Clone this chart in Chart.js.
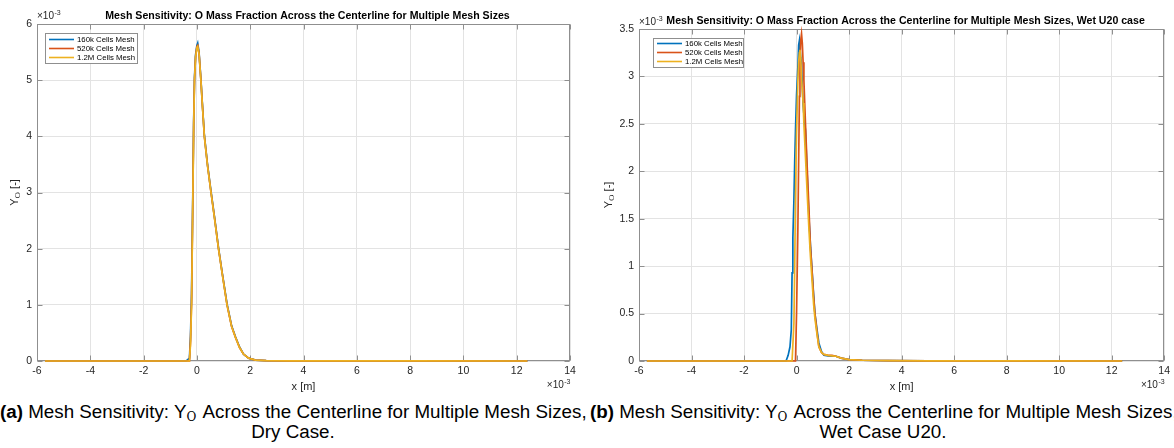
<!DOCTYPE html>
<html>
<head>
<meta charset="utf-8">
<script src="https://cdn.jsdelivr.net/npm/chart.js@4.4.0/dist/chart.umd.min.js"></script>
<style>
  html, body { margin: 0; padding: 0; background: #fff; width: 1174px; height: 448px; overflow: hidden; }
  #wrap { position: relative; width: 1174px; height: 448px; overflow: hidden; }
  canvas { position: absolute; top: 0; }
  #cL { left: 0; }
  #cR { left: 590px; }
  .cap { position: absolute; top: 402px; width: 586px; font-family: "Liberation Sans", Arial, sans-serif;
         font-size: 18.8px; line-height: 20px; text-align: center; white-space: nowrap; color: #000; }
  .cap sub { font-family: "DejaVu Serif", serif; font-size: 12px; vertical-align: -3px; line-height: 0; margin-right: 2px; }
</style>
</head>
<body>
<div id="wrap">
  <canvas id="cL" width="590" height="400"></canvas>
  <canvas id="cR" width="584" height="400"></canvas>
  <div class="cap" style="left:0"><b>(a)</b> Mesh Sensitivity: Y<sub>O</sub> Across the Centerline for Multiple Mesh Sizes,<br>Dry Case.</div>
  <div class="cap" style="left:590px"><b>(b)</b> Mesh Sensitivity: Y<sub>O</sub> Across the Centerline for Multiple Mesh Sizes,<br>Wet Case U20.</div>
</div>
<script>
// x and Y_O both in units of 1e-3 (the axes carry the x10^-3 multiplier)
var SERIES_NAMES = ["160k Cells Mesh", "520k Cells Mesh", "1.2M Cells Mesh"];
var SERIES_COLORS = ["#0072BD", "#D95319", "#EDB120"];

// (a) dry case
var X_DRY = [-5.7, -0.4, -0.28, -0.24, -0.2, -0.15, -0.12, -0.09, -0.05, 0, 0.03, 0.08, 0.15, 0.2, 0.28,
  0.4, 0.53, 0.65, 0.81, 0.95, 1.13, 1.3, 1.44, 1.6, 1.75, 1.94, 2.2, 2.6, 3.5, 5, 8, 12.4];
var DRY_160K = [0, 0, 0.05, 0.45, 1.2, 3.1, 4.3, 5.05, 5.45, 5.62, 5.66, 5.5, 5.02, 4.62, 4.02,
  3.49, 3.02, 2.6, 2.02, 1.57, 1.02, 0.63, 0.44, 0.25, 0.12, 0.05, 0.016, 0.008, 0.004, 0.002, 0.001, 0];
var DRY_520K = [0, 0, 0, 0.35, 1.05, 3.0, 4.25, 5.0, 5.42, 5.6, 5.62, 5.48, 5.0, 4.6, 4.0,
  3.48, 3.0, 2.59, 2.0, 1.56, 1.0, 0.62, 0.43, 0.24, 0.12, 0.05, 0.016, 0.008, 0.004, 0.002, 0.001, 0];
var DRY_1_2M = [0, 0, 0, 0.3, 1.0, 3.0, 4.2, 5.0, 5.4, 5.58, 5.6, 5.47, 5.0, 4.6, 4.0,
  3.47, 3.0, 2.58, 2.0, 1.55, 1.0, 0.62, 0.43, 0.24, 0.12, 0.05, 0.016, 0.008, 0.004, 0.002, 0.001, 0];

// (b) wet U20 case
var X_WET = [-5.7, -0.4, -0.32, -0.25, -0.2, -0.17, -0.14, -0.1, -0.07, -0.04, 0, 0.05, 0.08, 0.11, 0.13,
  0.16, 0.19, 0.22, 0.25, 0.28, 0.34, 0.4, 0.47, 0.53, 0.59, 0.65, 0.7, 0.78, 0.85, 0.95, 1.04,
  1.2, 1.35, 1.5, 1.7, 2.0, 2.5, 3.5, 5, 8, 12.4];
var WET_160K = [0, 0, 0.06, 0.15, 0.33, 0.93, 1.3, 1.7, 2.1, 2.43, 2.8, 3.1, 3.33, 3.38, 3.3,
  3.2, 3.14, 2.9, 2.7, 2.6, 2.43, 2.0, 1.52, 1.22, 0.96, 0.7, 0.5, 0.33, 0.19, 0.1, 0.06,
  0.055, 0.05, 0.05, 0.03, 0.015, 0.008, 0.004, 0.002, 0.001, 0];
var WET_520K = [0, 0, 0, 0, 0, 0, 0, 0, 0, 0, 0.5, 1.38, 2.1, 2.79, 3.15,
  3.38, 3.45, 3.35, 3.15, 2.96, 2.5, 2.08, 1.62, 1.2, 0.95, 0.68, 0.5, 0.3, 0.15, 0.09, 0.07,
  0.06, 0.06, 0.05, 0.03, 0.015, 0.008, 0.004, 0.002, 0.001, 0];
var WET_1_2M = [0, 0, 0, 0, 0, 0, 0, 0.4, 1.0, 1.73, 2.4, 2.96, 3.15, 3.25, 3.28,
  3.2, 3.0, 2.85, 2.72, 2.5, 2.15, 1.8, 1.4, 1.1, 0.85, 0.6, 0.45, 0.28, 0.15, 0.09, 0.07,
  0.06, 0.055, 0.05, 0.03, 0.015, 0.008, 0.004, 0.002, 0.001, 0];

var X_MIN = -6, X_MAX = 14, X_STEP = 2;
var FONT = '"Liberation Sans", Arial, Helvetica, sans-serif';
var AXIS_COLOR = "#8f8f8f";
var TEXT_COLOR = "#262626";
var GRID_COLOR = "#e3e3e3";

function pts(xs, ys) {
  return xs.map(function (x, i) { return { x: x, y: ys[i] }; });
}

function drawExp(ctx, x, y, alignRight) {
  ctx.textAlign = "left";
  ctx.textBaseline = "alphabetic";
  ctx.font = "10px " + FONT;
  var w1 = ctx.measureText("\u00d710").width;
  ctx.font = "7px " + FONT;
  var w2 = ctx.measureText("-3").width;
  var x0 = alignRight ? x - w1 - w2 : x;
  ctx.font = "10px " + FONT;
  ctx.fillText("\u00d710", x0, y);
  ctx.font = "7px " + FONT;
  ctx.fillText("-3", x0 + w1 + 0.5, y - 4.5);
}

// MATLAB-ish decorations: box, inward ticks, title, legend, labels
var matlabAxes = {
  id: "matlabAxes",
  beforeDatasetsDraw: function (chart) {
    var ctx = chart.ctx, a = chart.chartArea, xs = chart.scales.x, ys = chart.scales.y;
    var L = Math.round(a.left) + 0.5, R = Math.round(a.right) - 0.5;
    var T = Math.round(a.top) + 0.5, B = Math.round(a.bottom) - 0.5;
    ctx.save();
    ctx.strokeStyle = AXIS_COLOR;
    ctx.lineWidth = 1;
    ctx.strokeRect(L, T, R - L, B - T);
    ctx.beginPath();
    xs.ticks.forEach(function (t) {
      var px = Math.round(xs.getPixelForValue(t.value)) + 0.5;
      ctx.moveTo(px, B); ctx.lineTo(px, B - 5);
      ctx.moveTo(px, T); ctx.lineTo(px, T + 5);
    });
    ys.ticks.forEach(function (t) {
      var py = Math.round(ys.getPixelForValue(t.value)) + 0.5;
      ctx.moveTo(L, py); ctx.lineTo(L + 5, py);
      ctx.moveTo(R, py); ctx.lineTo(R - 5, py);
    });
    ctx.stroke();
    ctx.restore();
  },
  afterDraw: function (chart, args, o) {
    var ctx = chart.ctx, a = chart.chartArea;
    ctx.save();
    ctx.fillStyle = TEXT_COLOR;
    // exponent markers
    drawExp(ctx, a.left, o.expTopY, false);
    drawExp(ctx, a.right, o.expBotY, true);

    // title
    ctx.font = "bold 10.6px " + FONT;
    ctx.textAlign = "center";
    ctx.textBaseline = "middle";
    ctx.fillStyle = "#000";
    ctx.fillText(o.title, (a.left + a.right) / 2 + o.titleDx, o.titleY);

    // x label
    ctx.fillStyle = TEXT_COLOR;
    ctx.font = "11px " + FONT;
    ctx.fillText("x [m]", (a.left + a.right) / 2, o.xLabelY);

    // y label: Y_O [-]
    ctx.save();
    ctx.translate(o.yLabelX, (a.top + a.bottom) / 2);
    ctx.rotate(-Math.PI / 2);
    ctx.textAlign = "left";
    ctx.textBaseline = "middle";
    ctx.font = "11px " + FONT;
    var wY = ctx.measureText("Y").width;
    var wR = ctx.measureText(" [-]").width;
    ctx.font = '8px "DejaVu Serif", serif';
    var wO = ctx.measureText("O").width;
    var x0 = -(wY + wO + wR) / 2;
    ctx.font = "11px " + FONT;
    ctx.fillText("Y", x0, 0);
    ctx.font = '8px "DejaVu Serif", serif';
    ctx.fillText("O", x0 + wY, 2.5);
    ctx.font = "11px " + FONT;
    ctx.fillText(" [-]", x0 + wY + wO, 0);
    ctx.restore();

    // legend
    var lg = o.legend;
    ctx.fillStyle = "#fff";
    ctx.fillRect(lg.x, lg.y, lg.w, lg.h);
    ctx.strokeStyle = AXIS_COLOR;
    ctx.lineWidth = 1;
    ctx.strokeRect(lg.x + 0.5, lg.y + 0.5, lg.w - 1, lg.h - 1);
    ctx.font = "7.8px " + FONT;
    ctx.textAlign = "left";
    ctx.textBaseline = "middle";
    chart.data.datasets.forEach(function (ds, i) {
      var ry = lg.y + lg.first + i * lg.step;
      ctx.strokeStyle = ds.borderColor;
      ctx.lineWidth = 1.6;
      ctx.beginPath();
      ctx.moveTo(lg.x + 4, ry);
      ctx.lineTo(lg.x + 29, ry);
      ctx.stroke();
      ctx.fillStyle = "#000";
      ctx.fillText(ds.label, lg.x + 32, ry);
    });
    ctx.restore();
  }
};

function makeChart(id, xArr, ySeries, yMax, yStep, padding, yWidth, deco) {
  var datasets = ySeries.map(function (ys, i) {
    return {
      label: SERIES_NAMES[i],
      data: pts(xArr, ys),
      borderColor: SERIES_COLORS[i],
      backgroundColor: SERIES_COLORS[i],
      borderWidth: 1.7,
      pointRadius: 0,
      tension: 0,
      fill: false,
      clip: 3,
      order: 3 - i
    };
  });
  return new Chart(document.getElementById(id), {
    type: "line",
    data: { datasets: datasets },
    options: {
      responsive: false,
      animation: false,
      devicePixelRatio: 1,
      layout: { padding: padding },
      plugins: { legend: { display: false }, tooltip: { enabled: false }, matlabAxes: deco },
      scales: {
        x: {
          type: "linear", min: X_MIN, max: X_MAX,
          ticks: { stepSize: X_STEP, autoSkip: false, maxRotation: 0, padding: 4,
                   color: TEXT_COLOR, font: { family: FONT, size: 10.5 } },
          grid: { color: GRID_COLOR, drawTicks: false },
          border: { display: false },
          afterFit: function (s) { s.height = 39; }
        },
        y: {
          type: "linear", min: 0, max: yMax,
          ticks: { stepSize: yStep, padding: 5, color: TEXT_COLOR, font: { family: FONT, size: 10.5 },
                   callback: function (v) { return String(v); } },
          grid: { color: GRID_COLOR, drawTicks: false },
          border: { display: false },
          afterFit: function (s) { s.width = yWidth; }
        }
      }
    },
    plugins: [matlabAxes]
  });
}

makeChart("cL", X_DRY, [DRY_160K, DRY_520K, DRY_1_2M], 6, 1,
  { left: 0, top: 24, right: 20, bottom: 0 }, 37, {
    title: "Mesh Sensitivity: O Mass Fraction Across the Centerline for Multiple Mesh Sizes",
    titleY: 16, titleDx: 4, expTopY: 19, expBotY: 388, xLabelY: 387, yLabelX: 15,
    legend: { x: 45, y: 33, w: 93, h: 31, first: 6.5, step: 9 }
  });

makeChart("cR", X_WET, [WET_160K, WET_520K, WET_1_2M], 3.5, 0.5,
  { left: 0, top: 29, right: 8, bottom: 0 }, 49, {
    title: "Mesh Sensitivity: O Mass Fraction Across the Centerline for Multiple Mesh Sizes, Wet U20 case",
    titleY: 21.5, titleDx: 4, expTopY: 25, expBotY: 388, xLabelY: 387, yLabelX: 19,
    legend: { x: 63, y: 38, w: 91, h: 30, first: 5.5, step: 9 }
  });
</script>
</body>
</html>
